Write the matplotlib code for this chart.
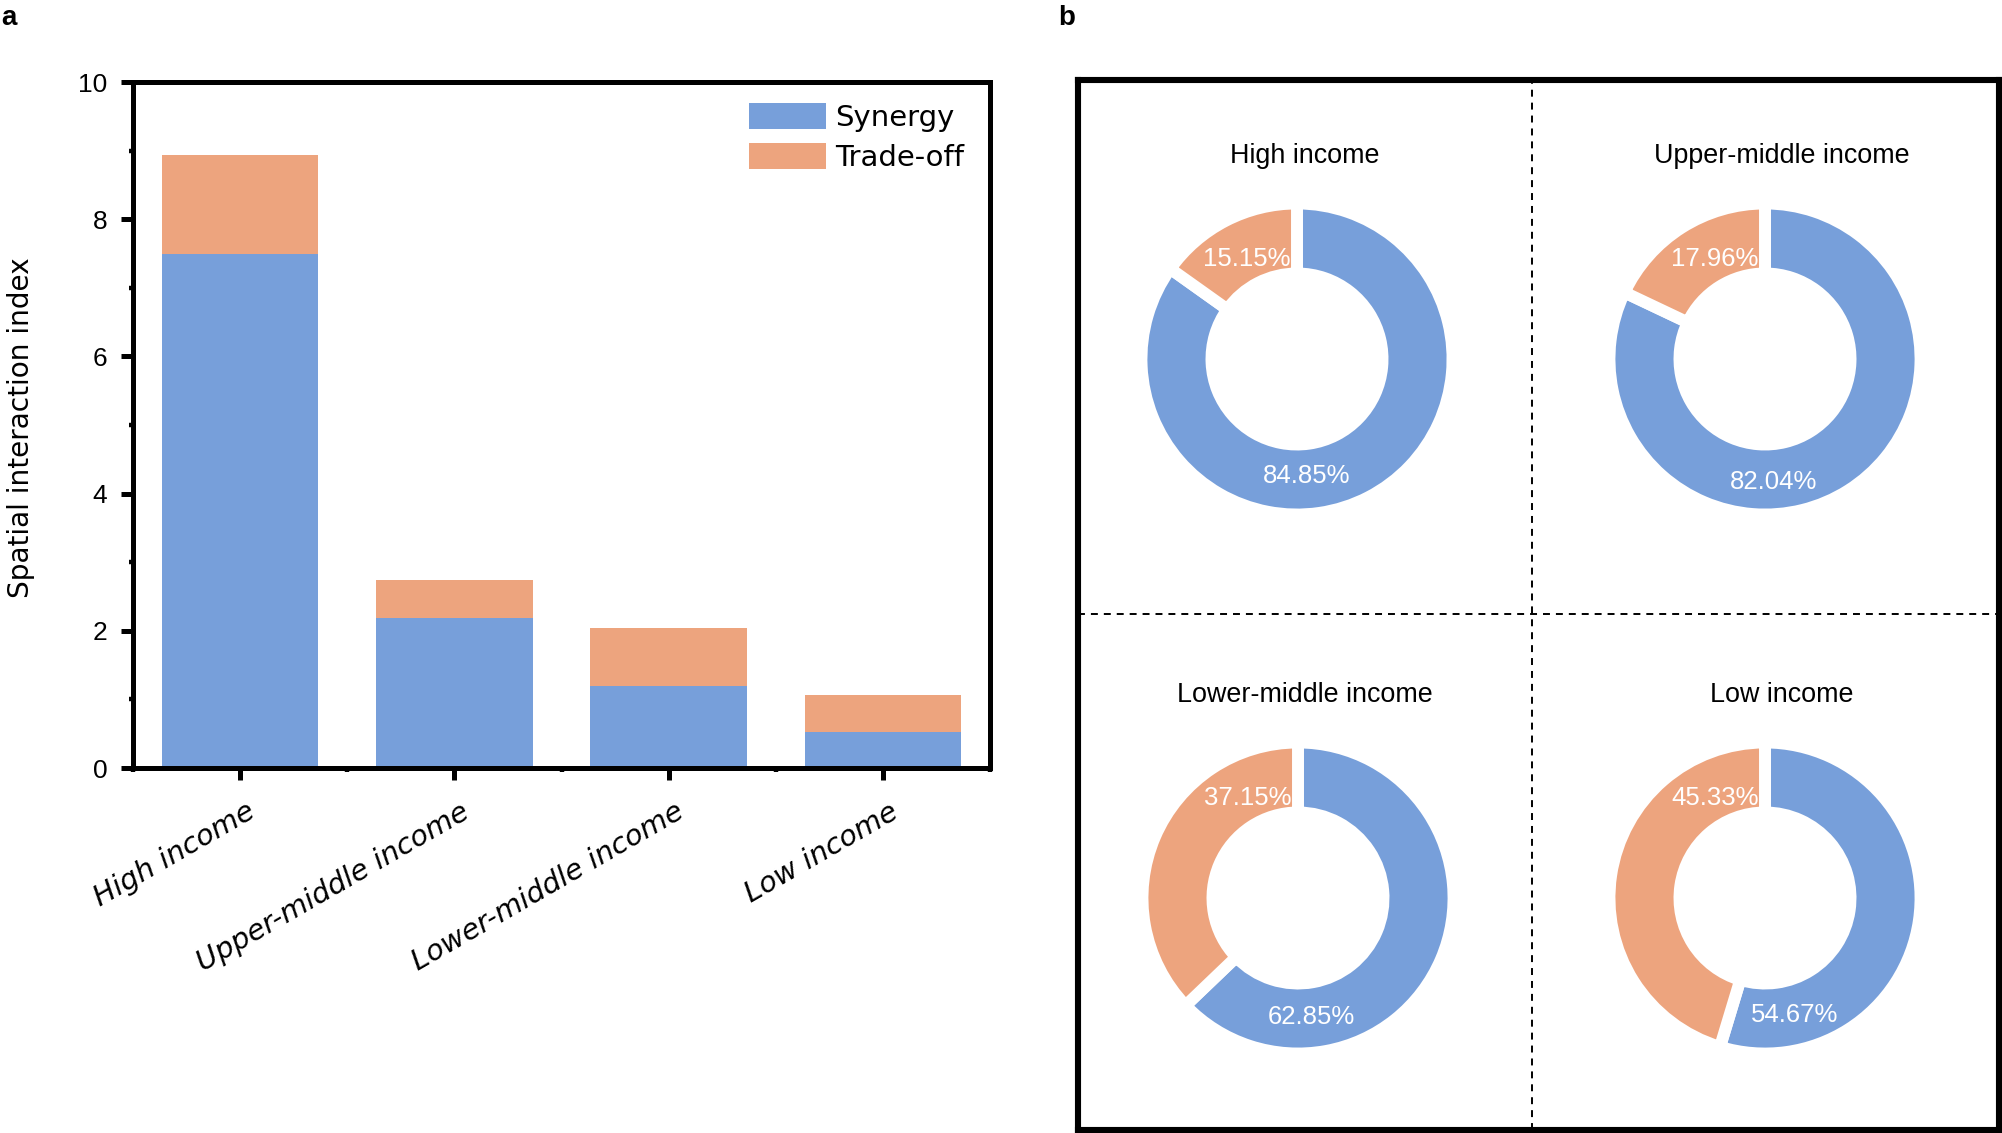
import matplotlib
matplotlib.use("Agg")
import matplotlib.pyplot as plt
from matplotlib.patches import Patch
from matplotlib.transforms import ScaledTranslation
from matplotlib.ticker import MultipleLocator, FixedLocator
import numpy as np

plt.rcParams['font.family'] = ['Liberation Sans', 'DejaVu Sans']
plt.rcParams['lines.scale_dashes'] = False

# ---------------- data ----------------
categories = ['High income', 'Upper-middle income', 'Lower-middle income', 'Low income']
synergy = [7.50, 2.18, 1.20, 0.52]
tradeoff = [1.43, 0.56, 0.84, 0.54]
synergy_pct = [84.85, 82.04, 62.85, 54.67]
tradeoff_pct = [15.15, 17.96, 37.15, 45.33]
series_names = ['Synergy', 'Trade-off']
y_ticks = [0, 2, 4, 6, 8, 10]

BLUE = '#779FDA'
ORANGE = '#EDA47E'

W, H = 2002, 1133
fig = plt.figure(figsize=(W / 100, H / 100), dpi=100)


def fx(px):
    return px / W


def fy(py):
    return 1 - py / H


# ---------------- panel a ----------------
L, R_, T, B = 133, 990, 82, 768
ax = fig.add_axes([fx(L), fy(B), fx(R_ - L), (B - T) / H])
x = np.arange(len(categories))
ax.bar(x, synergy, width=0.73, color=BLUE, label=series_names[0], zorder=2)
ax.bar(x, tradeoff, width=0.73, bottom=synergy, color=ORANGE, label=series_names[1], zorder=2)
ax.set_xlim(-0.5, 3.5)
ax.set_ylim(0, 10)
ax.set_yticks(y_ticks)
ax.yaxis.set_minor_locator(MultipleLocator(1))
ax.set_xticks(x)
ax.xaxis.set_minor_locator(FixedLocator([-0.5, 0.5, 1.5, 2.5, 3.5]))
for s in ax.spines.values():
    s.set_linewidth(3.6)
ax.tick_params(axis='both', which='major', direction='out', length=8.6, width=3.6)
ax.tick_params(axis='y', which='major', labelsize=19, pad=10)
ax.tick_params(axis='both', which='minor', direction='out', length=3.2, width=3.2)
ax.tick_params(axis='x', which='major', pad=21.5)
ax.set_xticklabels(categories, rotation=30, ha='right', va='center',
                   rotation_mode='anchor', fontsize=20.8, family='DejaVu Sans', style='italic')
off = ScaledTranslation(0.13, 0, fig.dpi_scale_trans)
for lab in ax.get_xticklabels():
    lab.set_transform(lab.get_transform() + off)
for lab in ax.get_yticklabels():
    lab.set_family('Liberation Sans')

fig.text(fx(21), fy(428), 'Spatial interaction index', rotation=90, ha='center', va='center',
         fontsize=20.2, family='DejaVu Sans')

handles = [Patch(facecolor=BLUE, edgecolor='none'), Patch(facecolor=ORANGE, edgecolor='none')]
leg = fig.legend(handles, series_names, loc='upper left',
                 bbox_to_anchor=(fx(749), fy(103)), bbox_transform=fig.transFigure,
                 frameon=False, borderpad=0, borderaxespad=0,
                 handlelength=2.65, handleheight=1.0, handletextpad=0.3, labelspacing=0.38,
                 prop={'family': 'DejaVu Sans', 'size': 21})

fig.text(fx(1), fy(25), 'a', fontsize=20, fontweight='bold', ha='left', va='baseline')
fig.text(fx(1058), fy(25), 'b', fontsize=20, fontweight='bold', ha='left', va='baseline')

# ---------------- panel b ----------------
bL, bR, bT, bB = 1078, 1999, 80, 1130
axb = fig.add_axes([fx(bL), fy(bB), fx(bR - bL), (bB - bT) / H])
axb.set_xticks([])
axb.set_yticks([])
for s in axb.spines.values():
    s.set_linewidth(4.4)
axb.set_xlim(0, 1)
axb.set_ylim(0, 1)
vx = (1532 - bL) / (bR - bL)
hy = (bB - 614) / (bB - bT)
axb.axvline(vx, color='black', lw=1.4, linestyle=(0, (5, 4.3)))
axb.axhline(hy, color='black', lw=1.4, linestyle=(0, (5, 4.3)))

centers = [(1297, 359), (1765, 359), (1298, 898), (1765, 898)]
title_pos = [(1305, 156), (1782, 156), (1305, 695), (1782, 695)]
blue_lab = [(0.067, -0.78), (0.06, -0.82), (0.087, -0.79), (0.2, -0.78)]
orange_lab = (-0.333, 0.665)
S = 360
for i, (cx, cy) in enumerate(centers):
    pa = fig.add_axes([fx(cx - S / 2), fy(cy + S / 2), S / W, S / H])
    pa.pie([synergy_pct[i], tradeoff_pct[i]], colors=[BLUE, ORANGE], radius=1.037,
           startangle=90, counterclock=False,
           wedgeprops=dict(width=0.467, edgecolor='white', linewidth=8.6))
    pa.set_xlim(-1.2, 1.2)
    pa.set_ylim(-1.2, 1.2)
    pa.set_aspect('equal')
    pa.axis('off')
    pa.text(blue_lab[i][0], blue_lab[i][1], f'{synergy_pct[i]:.2f}%', color='white',
            fontsize=18.5, ha='center', va='center')
    pa.text(orange_lab[0], orange_lab[1], f'{tradeoff_pct[i]:.2f}%', color='white',
            fontsize=18.5, ha='center', va='center')
    fig.text(fx(title_pos[i][0]), fy(title_pos[i][1]), categories[i], fontsize=19.4,
             ha='center', va='center')

fig.savefig('out.png', dpi=100)
